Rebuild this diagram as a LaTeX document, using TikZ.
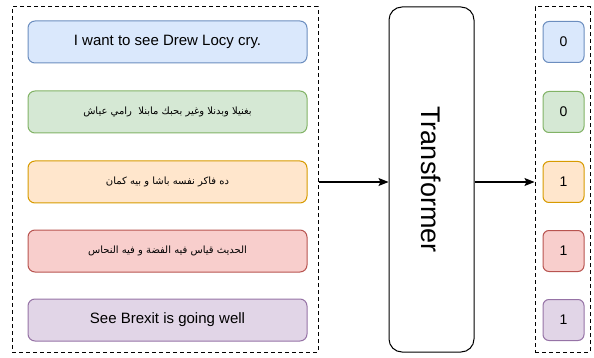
\documentclass[tikz,border=0pt]{standalone}
\usepackage{fontspec}
\setmainfont{Liberation Sans}
\newfontfamily\arabicfont[Script=Arabic]{DejaVu Sans}
\TeXXeTstate=1
\usetikzlibrary{arrows.meta}
\definecolor{bluef}{HTML}{DAE8FC}\definecolor{bluel}{HTML}{6C8EBF}
\definecolor{greenf}{HTML}{D5E8D4}\definecolor{greenl}{HTML}{82B366}
\definecolor{orangef}{HTML}{FFE6CC}\definecolor{orangel}{HTML}{D79B00}
\definecolor{redf}{HTML}{F8CECC}\definecolor{redl}{HTML}{B85450}
\definecolor{purplef}{HTML}{E1D5E7}\definecolor{purplel}{HTML}{9673A6}
\tikzset{
  group/.style={draw, dash pattern=on 4pt off 3pt, line width=1pt, minimum height=345pt, inner sep=0pt},
  sent/.style={draw, rounded corners=7pt, line width=1pt, minimum width=279pt, minimum height=42pt, inner sep=0pt, font=\fontsize{15}{18}\selectfont},
  lab/.style={draw, rounded corners=6pt, line width=1pt, minimum width=41pt, minimum height=41pt, inner sep=0pt, font=\fontsize{14}{17}\selectfont},
  arr/.style={line width=1.2pt, -{Stealth[length=10pt,width=8pt,inset=2pt]}},
  ar/.style={font=\arabicfont\fontsize{10}{12}\selectfont}
}
\begin{document}
\begin{tikzpicture}[x=1pt,y=-1pt]
\useasboundingbox (0,0) rectangle (594,358);
\node[group, minimum width=306pt] (L) at (165,179.5) {};
\node[group, minimum width=55pt] (R) at (562.5,179.5) {};
\node[draw, rounded corners=13pt, line width=1pt, minimum width=85pt, minimum height=345pt] (T) at (431.5,179.5) {};
\node[rotate=-90, font=\fontsize{27}{30}\selectfont] (Tl) at (T.center) {Transformer};

\node[sent, fill=bluef, draw=bluel] (s1) at (167.5,42) {I want to see Drew Locy cry.};
\node[sent, fill=greenf, draw=greenl] (s2) at (167.5,112) {\arabicfont\fontsize{10}{12}\selectfont\beginR بغنيلا وبدنلا وغير بحبك مابنلا\ \ رامي عياش\endR};
\node[sent, fill=orangef, draw=orangel] (s3) at (167.5,182) {\arabicfont\fontsize{10}{12}\selectfont\beginR ده فاكر نفسه باشا و بيه كمان\endR};
\node[sent, fill=redf, draw=redl] (s4) at (167.5,251) {\arabicfont\fontsize{10}{12}\selectfont\beginR الحديث قياس فيه الفضة و فيه النحاس\endR};
\node[sent, fill=purplef, draw=purplel] (s5) at (167.5,320) {See Brexit is going well};

\node[lab, fill=bluef, draw=bluel] (o1) at (563.5,42) {0};
\node[lab, fill=greenf, draw=greenl] (o2) at (563.5,112) {0};
\node[lab, fill=orangef, draw=orangel] (o3) at (563.5,182) {1};
\node[lab, fill=redf, draw=redl] (o4) at (563.5,251) {1};
\node[lab, fill=purplef, draw=purplel] (o5) at (563.5,320) {1};

\draw[arr] (L.east |- s3) -- (T.west |- s3);
\draw[arr] (T.east |- s3) -- (R.west |- s3);
\end{tikzpicture}
\end{document}
